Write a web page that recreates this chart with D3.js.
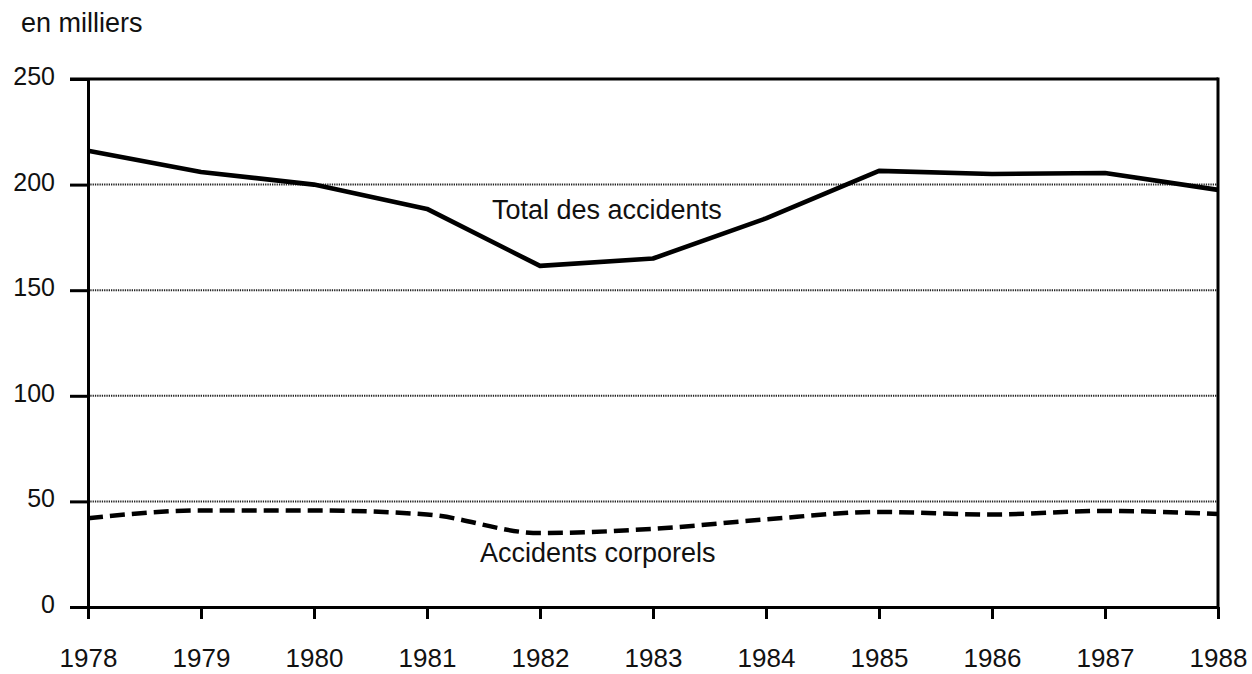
<!DOCTYPE html>
<html>
<head>
<meta charset="utf-8">
<script src="https://cdn.jsdelivr.net/npm/d3@7"></script>
<style>
  html, body { margin: 0; padding: 0; background: #fff; }
  svg { display: block; }
  text { font-family: "Liberation Sans", Arial, Helvetica, sans-serif; fill: #111; }
</style>
</head>
<body>
<svg id="chart" width="1252" height="674"></svg>
<script>
// ---- Data ----
const years = [1978, 1979, 1980, 1981, 1982, 1983, 1984, 1985, 1986, 1987, 1988];
const totalAccidents = [216, 206, 200, 188.5, 161.5, 165, 184, 206.5, 205, 205.5, 197.5];
const accidentsCorporels = [42, 45.7, 45.7, 43.8, 35, 37, 41.5, 45, 43.8, 45.5, 44];
const yTicks = [0, 50, 100, 150, 200, 250];
const gridValues = [50, 100, 150, 200];
const unitLabel = "en milliers";
const seriesLabels = ["Total des accidents", "Accidents corporels"];

// ---- Layout ----
const plotLeft = 88, plotRight = 1218, plotTop = 79, plotBottom = 607;
const svg = d3.select("#chart");

const x = d3.scaleLinear().domain([1978, 1988]).range([plotLeft, plotRight]);
const y = d3.scaleLinear().domain([0, 250]).range([plotBottom, plotTop]);

// Grid lines (fine dotted)
svg.append("g").selectAll("line").data(gridValues).join("line")
  .attr("x1", plotLeft).attr("x2", plotRight)
  .attr("y1", d => y(d)).attr("y2", d => y(d))
  .attr("stroke", "#222").attr("stroke-width", 2)
  .attr("stroke-dasharray", "1.3,1");

// Top border line (extends left like a tick)
svg.append("line")
  .attr("x1", plotLeft - 18).attr("x2", plotRight)
  .attr("y1", y(250)).attr("y2", y(250))
  .attr("stroke", "#000").attr("stroke-width", 3);

// Right border
svg.append("line")
  .attr("x1", plotRight).attr("x2", plotRight)
  .attr("y1", y(250) - 1.5).attr("y2", plotBottom)
  .attr("stroke", "#000").attr("stroke-width", 3);

// Y axis
const yAxis = d3.axisLeft(y).tickValues(yTicks).tickSize(18).tickSizeOuter(0).tickPadding(15)
  .tickFormat(d3.format("d"));
const gy = svg.append("g").attr("transform", `translate(${plotLeft},0)`).call(yAxis);
gy.select(".domain").attr("stroke", "#000").attr("stroke-width", 3);
gy.selectAll(".tick line").attr("stroke", "#000").attr("stroke-width", 3);
gy.selectAll(".tick text")
  .attr("font-size", 25).attr("dy", "0.22em")
  .style("font-family", '"Liberation Sans", Arial, sans-serif').attr("fill", "#111");

// X axis
const xAxis = d3.axisBottom(x).tickValues(years).tickSize(12).tickSizeOuter(0).tickPadding(30)
  .tickFormat(d3.format("d"));
const gx = svg.append("g").attr("transform", `translate(0,${plotBottom})`).call(xAxis);
gx.select(".domain").attr("stroke", "#000").attr("stroke-width", 3);
gx.selectAll(".tick line").attr("stroke", "#000").attr("stroke-width", 3);
gx.selectAll(".tick text")
  .attr("font-size", 26)
  .style("font-family", '"Liberation Sans", Arial, sans-serif').attr("fill", "#111");

// Lines
const totalLine = d3.line().x((d, i) => x(years[i])).y(d => y(d));
svg.append("path").datum(totalAccidents)
  .attr("d", totalLine)
  .attr("fill", "none").attr("stroke", "#000").attr("stroke-width", 4.6)
  .attr("stroke-linejoin", "round");

const corpLine = d3.line().x((d, i) => x(years[i])).y(d => y(d)).curve(d3.curveMonotoneX);
svg.append("path").datum(accidentsCorporels)
  .attr("d", corpLine)
  .attr("fill", "none").attr("stroke", "#000").attr("stroke-width", 4.5)
  .attr("stroke-dasharray", "15,7");

// Labels
svg.append("text").attr("x", 21).attr("y", 32).attr("font-size", 27).text(unitLabel);
svg.append("text").attr("x", 492).attr("y", 219).attr("font-size", 27).text(seriesLabels[0]);
svg.append("text").attr("x", 480).attr("y", 562).attr("font-size", 27).text(seriesLabels[1]);
</script>
</body>
</html>
